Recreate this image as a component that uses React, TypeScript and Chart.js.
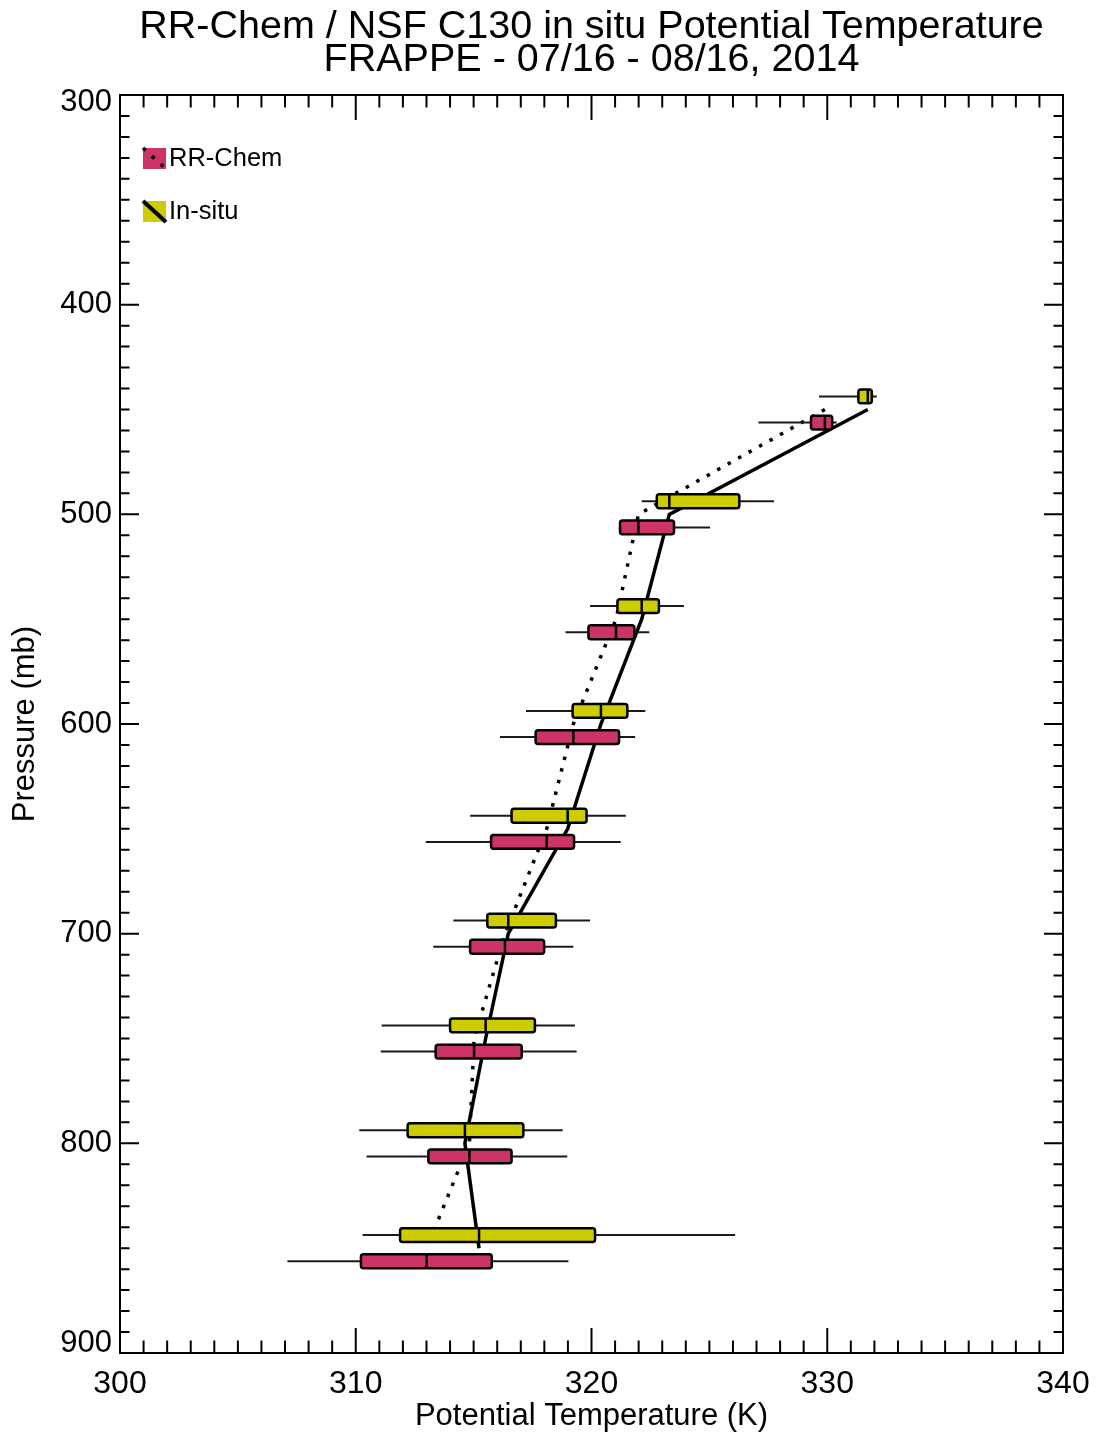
import { useEffect, useRef } from 'react';
import { Chart, registerables } from 'chart.js';

Chart.register(...registerables);

const titleLines = ['RR-Chem / NSF C130 in situ Potential Temperature', 'FRAPPE - 07/16 - 08/16, 2014'];
const xTitle = 'Potential Temperature (K)';
const yTitle = 'Pressure (mb)';
const seriesNames = ['RR-Chem', 'In-situ'];

// pressure bins (mb)
const levels = [450, 500, 550, 600, 650, 700, 750, 800, 850];

// In-situ (NSF C130) statistics, K
const insituLow = [329.65, 322.13, 319.94, 317.22, 314.85, 314.14, 311.1, 310.15, 310.29];
const insituQ1 = [331.32, 322.77, 321.1, 319.2, 316.61, 315.58, 314.0, 312.2, 311.88];
const insituMed = [331.72, 323.3, 322.13, 320.4, 318.99, 316.47, 315.51, 314.63, 315.23];
const insituQ3 = [331.89, 326.27, 322.86, 321.52, 319.79, 318.49, 317.6, 317.11, 320.15];
const insituHigh = [332.1, 327.74, 323.92, 322.28, 321.46, 319.94, 319.3, 318.78, 326.09];

// RR-Chem model statistics, K
const rrLow = [327.08, 321.21, 318.9, 316.12, 312.97, 313.29, 311.06, 310.46, 307.1];
const rrQ1 = [329.31, 321.21, 319.87, 317.63, 315.74, 314.85, 313.39, 313.08, 310.22];
const rrMed = [329.9, 321.99, 321.04, 319.23, 318.1, 316.33, 315.02, 314.82, 313.01];
const rrQ3 = [330.21, 323.5, 321.82, 321.17, 319.26, 317.99, 317.04, 316.61, 315.77];
const rrHigh = [330.4, 325.03, 322.45, 321.85, 321.24, 319.23, 319.37, 318.97, 319.02];

const PINK = '#CC3366';
const YELLOW = '#CCCC00';
const FONT = '"Liberation Sans", Arial, Helvetica, sans-serif';

function roundRect(ctx: CanvasRenderingContext2D, x: number, y: number, w: number, h: number, r: number) {
  ctx.beginPath();
  ctx.moveTo(x + r, y);
  ctx.lineTo(x + w - r, y);
  ctx.quadraticCurveTo(x + w, y, x + w, y + r);
  ctx.lineTo(x + w, y + h - r);
  ctx.quadraticCurveTo(x + w, y + h, x + w - r, y + h);
  ctx.lineTo(x + r, y + h);
  ctx.quadraticCurveTo(x, y + h, x, y + h - r);
  ctx.lineTo(x, y + r);
  ctx.quadraticCurveTo(x, y, x + r, y);
  ctx.closePath();
}

export default function App() {
  const ref = useRef<HTMLCanvasElement>(null);

  useEffect(() => {
    const canvas = ref.current;
    if (!canvas) return;
    const offsetMb = 6.25;
    const halfBoxMb = 3.3;

    const boxPlugin = {
      id: 'boxes',
      afterDatasetsDraw(chart: any) {
        const { ctx } = chart;
        const x = chart.scales.x;
        const y = chart.scales.y;
        const drawSeries = (low: number[], q1: number[], med: number[], q3: number[], high: number[], off: number, fill: string) => {
          levels.forEach((p, i) => {
            const yc = y.getPixelForValue(p + off);
            const yt = y.getPixelForValue(p + off - halfBoxMb);
            const yb = y.getPixelForValue(p + off + halfBoxMb);
            const xl = x.getPixelForValue(low[i]);
            const x1 = x.getPixelForValue(q1[i]);
            const xm = x.getPixelForValue(med[i]);
            const x3 = x.getPixelForValue(q3[i]);
            const xh = x.getPixelForValue(high[i]);
            ctx.save();
            ctx.strokeStyle = '#1a1a1a';
            ctx.lineWidth = 2;
            ctx.beginPath();
            ctx.moveTo(xl, yc);
            ctx.lineTo(xh, yc);
            ctx.stroke();
            roundRect(ctx, x1, yt, x3 - x1, yb - yt, 2.5);
            ctx.fillStyle = fill;
            ctx.fill();
            ctx.lineWidth = 2.5;
            ctx.strokeStyle = '#000';
            ctx.stroke();
            ctx.beginPath();
            ctx.lineWidth = 2.5;
            ctx.moveTo(xm, yt);
            ctx.lineTo(xm, yb);
            ctx.stroke();
            ctx.restore();
          });
        };
        drawSeries(insituLow, insituQ1, insituMed, insituQ3, insituHigh, -offsetMb, YELLOW);
        drawSeries(rrLow, rrQ1, rrMed, rrQ3, rrHigh, offsetMb, PINK);
      },
    };

    const framePlugin = {
      id: 'frame',
      afterDraw(chart: any) {
        const { ctx, chartArea } = chart;
        const { left, right, top, bottom } = chartArea;
        const x = chart.scales.x;
        const y = chart.scales.y;
        ctx.save();

        // title, centred over the plot area
        ctx.fillStyle = '#000';
        ctx.font = `39.5px ${FONT}`;
        ctx.textAlign = 'center';
        ctx.textBaseline = 'middle';
        titleLines.forEach((t, i) => ctx.fillText(t, (left + right) / 2, 27 + i * 33));

        // frame and inward ticks
        ctx.strokeStyle = '#000';
        ctx.lineWidth = 2;
        ctx.strokeRect(left, top, right - left, bottom - top);
        ctx.beginPath();
        x.ticks.forEach((t: any) => {
          const px = x.getPixelForValue(t.value);
          const len = Math.round(t.value) % 10 === 0 ? 25 : 12.5;
          ctx.moveTo(px, bottom);
          ctx.lineTo(px, bottom - len);
          ctx.moveTo(px, top);
          ctx.lineTo(px, top + len);
        });
        y.ticks.forEach((t: any) => {
          const py = y.getPixelForValue(t.value);
          const len = Math.round(t.value) % 100 === 0 ? 19 : 9.5;
          ctx.moveTo(left, py);
          ctx.lineTo(left + len, py);
          ctx.moveTo(right, py);
          ctx.lineTo(right - len, py);
        });
        ctx.stroke();

        // y tick labels (end labels kept inside the frame height)
        ctx.font = `31px ${FONT}`;
        ctx.textAlign = 'right';
        ctx.textBaseline = 'middle';
        y.ticks.forEach((t: any) => {
          const v = Math.round(t.value);
          if (v % 100 !== 0) return;
          let py = y.getPixelForValue(t.value);
          py = Math.min(Math.max(py, top + 7), bottom - 10);
          ctx.fillText(String(v), left - 8, py);
        });

        // legend
        const lx = left + 23;
        const sw = 23;
        const sh = 21;
        const rows = [
          { name: seriesNames[0], fill: PINK, dotted: true, cy: top + 64 },
          { name: seriesNames[1], fill: YELLOW, dotted: false, cy: top + 117 },
        ];
        rows.forEach((r) => {
          const sy = r.cy - 11;
          ctx.fillStyle = r.fill;
          ctx.fillRect(lx, sy, sw, sh);
          ctx.beginPath();
          ctx.strokeStyle = '#000';
          if (r.dotted) {
            ctx.lineWidth = 3.5;
            ctx.setLineDash([3.5, 8.5]);
          } else {
            ctx.lineWidth = 4;
            ctx.setLineDash([]);
          }
          ctx.moveTo(lx, sy);
          ctx.lineTo(lx + sw, sy + sh);
          ctx.stroke();
          ctx.setLineDash([]);
          ctx.fillStyle = '#000';
          ctx.font = `25.5px ${FONT}`;
          ctx.textAlign = 'left';
          ctx.textBaseline = 'middle';
          ctx.fillText(r.name, lx + sw + 3, r.cy);
        });
        ctx.restore();
      },
    };

    const chart = new Chart(canvas, {
      type: 'scatter',
      data: {
        datasets: [
          {
            label: seriesNames[1],
            data: levels.map((p, i) => ({ x: insituMed[i], y: p })),
            showLine: true,
            borderColor: '#000',
            borderWidth: 3.5,
            pointRadius: 0,
            tension: 0,
          },
          {
            label: seriesNames[0],
            data: levels.map((p, i) => ({ x: rrMed[i], y: p })),
            showLine: true,
            borderColor: '#000',
            borderWidth: 3.5,
            borderDash: [3.5, 8.5],
            borderCapStyle: 'butt',
            pointRadius: 0,
            tension: 0,
          },
        ],
      },
      options: {
        responsive: false,
        animation: false,
        devicePixelRatio: 1,
        layout: { padding: { left: 0, right: 34, top: 95, bottom: 0 } },
        plugins: {
          legend: { display: false },
          tooltip: { enabled: false },
          title: { display: false },
        },
        scales: {
          x: {
            type: 'linear',
            min: 300,
            max: 340,
            afterFit: (s: any) => {
              s.height = 84;
            },
            grid: { display: false },
            border: { display: false },
            ticks: {
              stepSize: 1,
              maxTicksLimit: 100,
              autoSkip: false,
              maxRotation: 0,
              padding: 4,
              color: '#000',
              font: { family: FONT, size: 32 },
              callback: (v: any) => (Math.round(Number(v)) % 10 === 0 ? String(Math.round(Number(v))) : ''),
            },
            title: {
              display: true,
              text: xTitle,
              color: '#000',
              font: { family: FONT, size: 31 },
              padding: { top: 0, bottom: 2 },
            },
          },
          y: {
            type: 'linear',
            reverse: true,
            min: 300,
            max: 900,
            afterFit: (s: any) => {
              s.width = 120;
            },
            grid: { display: false },
            border: { display: false },
            ticks: {
              display: false,
              stepSize: 10,
              maxTicksLimit: 100,
              autoSkip: false,
            },
            title: {
              display: true,
              text: yTitle,
              color: '#000',
              font: { family: FONT, size: 31 },
              padding: { top: 7, bottom: 0 },
            },
          },
        },
      } as any,
      plugins: [boxPlugin, framePlugin],
    });
    return () => chart.destroy();
  }, []);

  return (
    <div style={{ position: 'absolute', left: 0, top: 0, width: 1097, height: 1437, background: '#fff' }}>
      <canvas ref={ref} width={1097} height={1437} style={{ display: 'block', width: 1097, height: 1437 }} />
    </div>
  );
}
